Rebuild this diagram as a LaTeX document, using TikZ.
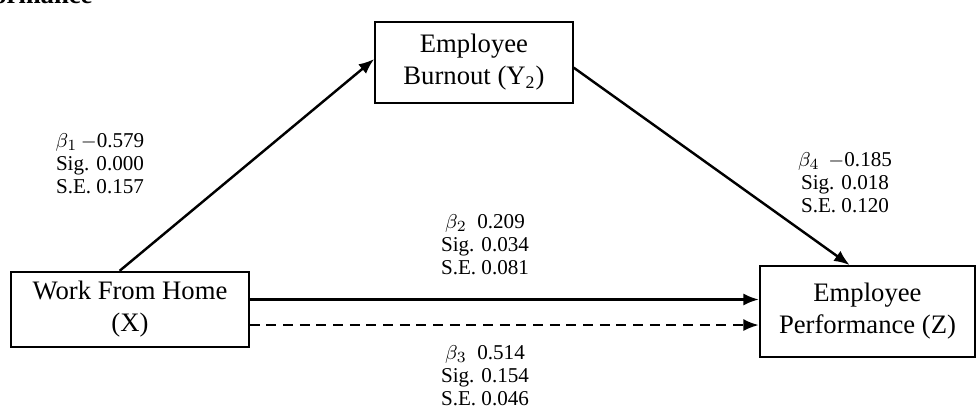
\documentclass[tikz,border=0pt]{standalone}
\usepackage{amsmath, amssymb}
\usepackage{fontspec}
\setmainfont{Liberation Serif}
\usepackage{tikz}
\usetikzlibrary{arrows.meta, positioning}

\tikzset{
    varbox/.style={draw, line width=0.8pt, align=center, font=\fontsize{12}{14.4}\selectfont, inner sep=2pt},
    link/.style={line width=1.1pt, -{Latex[length=7pt,width=5.5pt]}},
    coef/.style={align=center, font=\fontsize{9.5}{10.4}\selectfont, inner sep=0pt}
}

\begin{document}
\begin{tikzpicture}[x=0.45pt, y=-0.45pt]
    \useasboundingbox (0,0) rectangle (980,414);

    % Heading (cut off at the top)
    \node[anchor=base east, font=\bfseries\fontsize{12}{14}\selectfont, inner sep=0pt] (head) at (93,4) {Performance};

    % Variables
    \node[varbox, minimum width=89pt, minimum height=36.5pt] (burnout) at (474,62.5) {Employee\\Burnout (Y\textsubscript{2})};
    \node[varbox, minimum width=107pt, minimum height=34pt] (wfh) at (130,309.5) {Work From Home\\(X)};
    \node[varbox, minimum width=97pt, minimum height=41pt] (perf) at (867.5,311.5) {Employee\\Performance (Z)};

    % Paths
    \draw[link] (wfh.105) -- (burnout.178);
    \draw[link] (burnout.-3) -- (perf.111);
    \draw[link] ([yshift=4.5pt]wfh.east) -- ([yshift=4.5pt]wfh.east -| perf.west);
    \draw[link, dash pattern=on 4.5pt off 3pt] ([yshift=-7pt]wfh.east) -- ([yshift=-7pt]wfh.east -| perf.west);

    % Coefficients
    \node[coef] (b1) at (100,164) {$\beta_1$\,$-$0.579\\Sig. 0.000\\S.E. 0.157};
    \node[coef] (b2) at (485,245) {$\beta_2$\ \ 0.209\\Sig. 0.034\\S.E. 0.081};
    \node[coef] (b3) at (485,376) {$\beta_3$\ \ 0.514\\Sig. 0.154\\S.E. 0.046};
    \node[coef] (b4) at (845,183) {$\beta_4$\ \,$-$0.185\\Sig. 0.018\\S.E. 0.120};
\end{tikzpicture}
\end{document}
